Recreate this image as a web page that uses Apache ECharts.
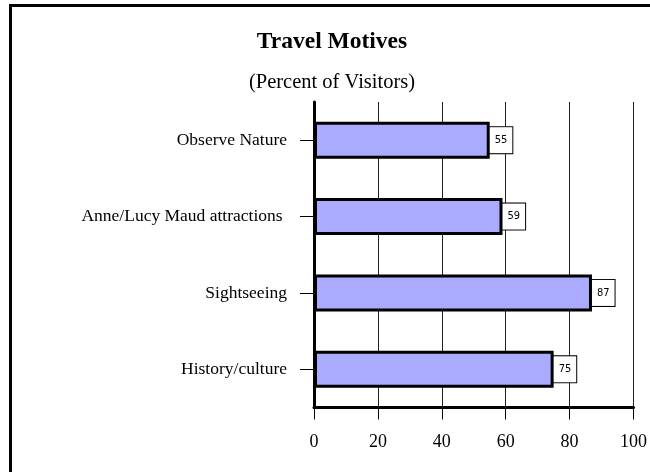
<!DOCTYPE html>
<html>
<head>
<meta charset="utf-8">
<script src="https://cdn.jsdelivr.net/npm/echarts@6/dist/echarts.min.js"></script>
<style>
  html, body { margin: 0; padding: 0; background: #fff; }
  #chart { width: 650px; height: 472px; }
</style>
</head>
<body>
<div id="chart"></div>
<script>
// categories top to bottom
const categories = ['Observe Nature', 'Anne/Lucy Maud attractions ', 'Sightseeing', 'History/culture'];
const percents = [55, 59, 87, 75];
const xTicks = [0, 20, 40, 60, 80, 100];

const serif = '"Liberation Serif", "Times New Roman", serif';

const chart = echarts.init(document.getElementById('chart'));

chart.setOption({
  animation: false,
  backgroundColor: '#fff',
  title: [
    {
      text: 'Travel Motives',
      left: 327,
      top: 25,
      textAlign: 'center',
      textStyle: { fontFamily: serif, fontSize: 23.5, fontWeight: 'bold', color: '#000' }
    },
    {
      text: '(Percent of Visitors)',
      left: 327,
      top: 67,
      textAlign: 'center',
      textStyle: { fontFamily: serif, fontSize: 20.5, fontWeight: 'normal', color: '#000' }
    }
  ],
  graphic: [{
    type: 'rect',
    shape: { x: 10.5, y: 5.5, width: 800, height: 600 },
    style: { fill: 'none', stroke: '#000', lineWidth: 3 },
    silent: true
  }],
  grid: { left: 314, right: 15, top: 102, bottom: 64.5 },
  xAxis: {
    type: 'value',
    min: xTicks[0],
    max: xTicks[xTicks.length - 1],
    interval: 20,
    axisLine: { show: true, lineStyle: { color: '#000', width: 3 } },
    axisTick: { show: true, length: 12, lineStyle: { color: '#000', width: 1 } },
    axisLabel: { fontFamily: serif, fontSize: 18, color: '#000', margin: 26 },
    splitLine: { show: true, lineStyle: { color: '#222', width: 1 } }
  },
  yAxis: {
    type: 'category',
    inverse: true,
    data: categories,
    axisLine: { show: true, lineStyle: { color: '#000', width: 3 } },
    axisTick: { show: true, alignWithLabel: true, length: 14, lineStyle: { color: '#000', width: 1 } },
    axisLabel: { fontFamily: serif, fontSize: 17.5, color: '#000', margin: 27 }
  },
  series: [{
    type: 'bar',
    data: percents,
    barWidth: 37,
    itemStyle: { color: '#aaaaff', borderColor: '#000', borderWidth: 3 },
    label: {
      show: true,
      position: 'right',
      distance: 0,
      fontFamily: '"Liberation Sans Narrow", "DejaVu Sans Condensed", sans-serif',
      fontSize: 11,
      lineHeight: 12,
      color: '#000',
      backgroundColor: '#fff',
      borderColor: '#000',
      borderWidth: 1,
      padding: [7, 5, 7, 5]
    }
  }]
});
</script>
</body>
</html>
